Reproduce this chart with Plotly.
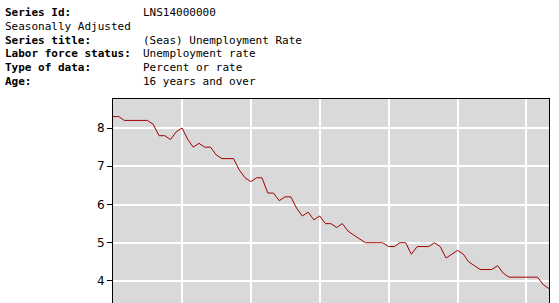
import plotly.graph_objects as go
import pandas as pd

# Monthly unemployment rate, Jan 2012 - May 2018
start_month = "2012-01-01"
rates_2012 = [8.3, 8.3, 8.2, 8.2, 8.2, 8.2, 8.2, 8.1, 7.8, 7.8, 7.7, 7.9]
rates_2013 = [8.0, 7.7, 7.5, 7.6, 7.5, 7.5, 7.3, 7.2, 7.2, 7.2, 6.9, 6.7]
rates_2014 = [6.6, 6.7, 6.7, 6.3, 6.3, 6.1, 6.2, 6.2, 5.9, 5.7, 5.8, 5.6]
rates_2015 = [5.7, 5.5, 5.5, 5.4, 5.5, 5.3, 5.2, 5.1, 5.0, 5.0, 5.0, 5.0]
rates_2016 = [4.9, 4.9, 5.0, 5.0, 4.7, 4.9, 4.9, 4.9, 5.0, 4.9, 4.6, 4.7]
rates_2017 = [4.8, 4.7, 4.5, 4.4, 4.3, 4.3, 4.3, 4.4, 4.2, 4.1, 4.1, 4.1]
rates_2018 = [4.1, 4.1, 4.1, 3.9, 3.8]
y_ticks = [4, 5, 6, 7, 8]

header_labels = ["Series Id:", "Seasonally Adjusted", "Series title:",
                 "Labor force status:", "Type of data:", "Age:"]
header_values = ["LNS14000000", "", "(Seas) Unemployment Rate",
                 "Unemployment rate", "Percent or rate", "16 years and over"]
header_bold = [True, False, True, True, True, True]

rates = rates_2012 + rates_2013 + rates_2014 + rates_2015 + rates_2016 + rates_2017 + rates_2018
months = pd.date_range(start_month, periods=len(rates), freq="MS")

W, H = 559, 303
L, R, T, B = 113, 10, 99, 0
plot_w = W - L - R
plot_h = H - T - B

fig = go.Figure()
fig.add_trace(go.Scatter(x=months, y=rates, mode="lines",
                         line=dict(color="#a00000", width=1), hoverinfo="skip"))

def px_x(px):
    return (px - L) / plot_w

def px_y(py):
    return (H - B - py) / plot_h

mono = "DejaVu Sans Mono"
line_centers = [12.5, 26.3, 40.1, 53.9, 67.7, 81.5]
annotations = []
for lab, val, bold, yc in zip(header_labels, header_values, header_bold, line_centers):
    annotations.append(dict(text=("<b>%s</b>" % lab) if bold else lab,
                            x=px_x(3), y=px_y(yc), xref="paper", yref="paper",
                            xanchor="left", yanchor="middle", showarrow=False,
                            font=dict(family=mono, size=11, color="#000000")))
    if val:
        annotations.append(dict(text=val, x=px_x(141), y=px_y(yc), xref="paper", yref="paper",
                                xanchor="left", yanchor="middle", showarrow=False,
                                font=dict(family=mono, size=11, color="#000000")))

fig.update_layout(
    width=W, height=H,
    margin=dict(l=L, r=R, t=T, b=B, pad=0),
    paper_bgcolor="#ffffff",
    plot_bgcolor="#d9d9d9",
    showlegend=False,
    annotations=annotations,
    xaxis=dict(
        type="date",
        range=[months[0], months[-1]],
        tick0=start_month, dtick="M12",
        showgrid=True, gridcolor="#ffffff", gridwidth=1.5,
        showticklabels=False, ticks="",
        side="top", showline=True, linecolor="#000000", linewidth=1,
        mirror=False, zeroline=False, fixedrange=True,
    ),
    yaxis=dict(
        range=[3.424, 8.76],
        tickvals=y_ticks,
        showgrid=True, gridcolor="#ffffff", gridwidth=1.5,
        ticks="outside", ticklen=5, tickcolor="#000000", tickwidth=1,
        ticklabelstandoff=0,
        tickfont=dict(family="DejaVu Sans", size=12, color="#000000"),
        showline=True, linecolor="#000000", linewidth=1, mirror=True,
        zeroline=False, fixedrange=True,
    ),
)

fig.write_html("out.html", config={"displayModeBar": False})
